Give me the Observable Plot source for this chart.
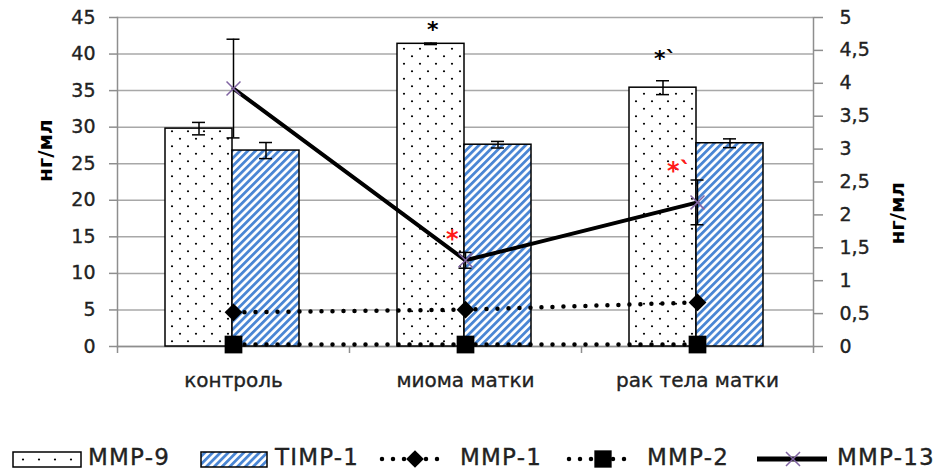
<!DOCTYPE html>
<html><head><meta charset="utf-8">
<script src="https://cdn.jsdelivr.net/npm/d3@7"></script>
<script src="https://cdn.jsdelivr.net/npm/@observablehq/plot@0.6"></script>
<style>
body{margin:0;background:#fff;}
#chart{width:940px;height:469px;overflow:hidden;}
#chart g[aria-label*="tick label"], #chart .legtext{stroke:#222;stroke-width:0.35px;}
</style></head><body><div id="chart"></div>
<script>
// ---- data ----
const categories = ["контроль", "миома матки", "рак тела матки"];
const mmp9 = [29.8, 41.4, 35.4];
const mmp9Err = [0.85, 0.1, 0.95];
const timp1 = [26.8, 27.6, 27.8];
const timp1Err = [1.1, 0.45, 0.6];
const mmp1 = [0.52, 0.56, 0.67];      // right axis units
const mmp2 = [0.03, 0.03, 0.03];      // right axis units
const mmp13 = [3.92, 1.31, 2.19];     // right axis units
const mmp13Err = [0.75, 0.12, 0.34];
const leftTicks = [0, 5, 10, 15, 20, 25, 30, 35, 40, 45];
const rightTicks = [0, 0.5, 1, 1.5, 2, 2.5, 3, 3.5, 4, 4.5, 5];
const axisLabel = "нг/мл";
const seriesNames = ["MMP-9", "TIMP-1", "MMP-1", "MMP-2", "MMP-13"];
// significance marks (left-axis units)
const blackStars = [{cat: "миома матки", label: "*", y: 43.3}, {cat: "рак тела матки", label: "*`", y: 39.3}];
const redStars = [{cat: "миома матки", label: "*", y: 14.6}, {cat: "рак тела матки", label: "*`", y: 24.0}];

// ---- layout ----
const W = 940, H = 430, mL = 117, mR = 127, mT = 17, mB = 84;
const bw = (W - mL - mR) / categories.length;
const ratio = leftTicks[leftTicks.length - 1] / rightTicks[rightTicks.length - 1];
const rows = categories.map((c, i) => ({
  cat: c, mmp9: mmp9[i], mmp9e: mmp9Err[i], timp1: timp1[i], timp1e: timp1Err[i],
  mmp1: mmp1[i] * ratio, mmp2: mmp2[i] * ratio, mmp13: mmp13[i] * ratio, mmp13e: mmp13Err[i] * ratio
}));
const grey = "#8e8e8e";
const txt = "#222";
const purple = "#8064a2";
const fmtR = v => String(+(v / ratio).toFixed(2)).replace(".", ",");

const plot = Plot.plot({
  width: W, height: H, marginLeft: mL, marginRight: mR, marginTop: mT, marginBottom: mB,
  style: {fontFamily: "DejaVu Sans", background: "#fff", overflow: "visible"},
  x: {type: "band", domain: categories, padding: 0},
  y: {domain: [0, 45]},
  marks: [
    Plot.ruleY(leftTicks, {stroke: "#a8a8a8", strokeWidth: 1.5}),
    Plot.frame({anchor: "left", stroke: grey, strokeWidth: 1.5}),
    Plot.frame({anchor: "right", stroke: grey, strokeWidth: 1.5}),
    Plot.frame({anchor: "bottom", stroke: grey, strokeWidth: 1.5}),
    Plot.ruleX(categories, {x: d => d, y1: () => 0, y2: () => 0, insetBottom: -7, dx: -bw / 2, stroke: grey, strokeWidth: 1.5}),
    Plot.ruleX(categories.slice(-1), {x: d => d, y1: () => 0, y2: () => 0, insetBottom: -7, dx: bw / 2, stroke: grey, strokeWidth: 1.5}),
    Plot.axisY(leftTicks, {anchor: "left", tickSize: 8, tickPadding: 14, fontSize: 19, stroke: grey, strokeWidth: 1.5, fill: txt, label: null}),
    Plot.axisY(rightTicks.map(v => v * ratio), {anchor: "right", tickSize: 9, tickPadding: 17, fontSize: 19, stroke: grey, strokeWidth: 1.5, fill: txt, tickFormat: fmtR, label: null}),
    Plot.axisX({anchor: "bottom", tickSize: 0, tickPadding: 26, fontSize: 20, fill: txt, label: null}),
    Plot.text([axisLabel], {text: d => d, frameAnchor: "left", dx: -72, rotate: -90, fontSize: 20, fontWeight: "bold", fill: "#000"}),
    Plot.text([axisLabel], {text: d => d, frameAnchor: "right", dx: 84, rotate: -90, fontSize: 20, fontWeight: "bold", fill: "#000"}),
    // bars
    Plot.barY(rows, {x: "cat", y: "mmp9", fill: "url(#dots)", stroke: "#000", strokeWidth: 1.5, insetLeft: 48, insetRight: 117}),
    Plot.barY(rows, {x: "cat", y: "timp1", fill: "url(#hatch)", stroke: "#000", strokeWidth: 1.5, insetLeft: 115, insetRight: 50}),
    // bar error bars
    Plot.ruleX(rows, {x: "cat", y1: d => d.mmp9 - d.mmp9e, y2: d => d.mmp9 + d.mmp9e, dx: -34.5, stroke: "#000", strokeWidth: 1.5}),
    Plot.tickY(rows, {x: "cat", y: d => d.mmp9 + d.mmp9e, insetLeft: 75, insetRight: 144, stroke: "#000", strokeWidth: 1.5}),
    Plot.tickY(rows, {x: "cat", y: d => d.mmp9 - d.mmp9e, insetLeft: 75, insetRight: 144, stroke: "#000", strokeWidth: 1.5}),
    Plot.ruleX(rows, {x: "cat", y1: d => d.timp1 - d.timp1e, y2: d => d.timp1 + d.timp1e, dx: 32.5, stroke: "#000", strokeWidth: 1.5}),
    Plot.tickY(rows, {x: "cat", y: d => d.timp1 + d.timp1e, insetLeft: 142, insetRight: 77, stroke: "#000", strokeWidth: 1.5}),
    Plot.tickY(rows, {x: "cat", y: d => d.timp1 - d.timp1e, insetLeft: 142, insetRight: 77, stroke: "#000", strokeWidth: 1.5}),
    // dotted lines
    Plot.line(rows, {x: "cat", y: "mmp2", stroke: "#000", strokeWidth: 4.5, strokeDasharray: "0 11", strokeLinecap: "round"}),
    Plot.line(rows, {x: "cat", y: "mmp1", stroke: "#000", strokeWidth: 4.5, strokeDasharray: "0 11", strokeLinecap: "round"}),
    Plot.dot(rows, {x: "cat", y: "mmp2", symbol: "square", r: 10, fill: "#000"}),
    Plot.dot(rows, {x: "cat", y: "mmp1", symbol: "diamond2", r: 8, fill: "#000"}),
    // MMP-13
    Plot.line(rows, {x: "cat", y: "mmp13", stroke: "#000", strokeWidth: 4}),
    Plot.ruleX(rows, {x: "cat", y1: d => d.mmp13 - d.mmp13e, y2: d => d.mmp13 + d.mmp13e, stroke: "#000", strokeWidth: 1.5}),
    Plot.tickY(rows, {x: "cat", y: d => d.mmp13 + d.mmp13e, insetLeft: bw / 2 - 6.5, insetRight: bw / 2 - 6.5, stroke: "#000", strokeWidth: 1.5}),
    Plot.tickY(rows, {x: "cat", y: d => d.mmp13 - d.mmp13e, insetLeft: bw / 2 - 6.5, insetRight: bw / 2 - 6.5, stroke: "#000", strokeWidth: 1.5}),
    Plot.dot(rows, {x: "cat", y: "mmp13", symbol: "times", r: 6.4, stroke: purple, strokeWidth: 1.5}),
    // stars
    Plot.text([blackStars[0]], {x: "cat", y: "y", text: "label", textAnchor: "start", dx: -38.5, fontSize: 22, fontWeight: "bold", fill: "#000"}),
    Plot.text([blackStars[1]], {x: "cat", y: "y", text: "label", textAnchor: "start", dx: -43.5, fontSize: 22, fontWeight: "bold", fill: "#000"}),
    Plot.text([redStars[0]], {x: "cat", y: "y", text: "label", textAnchor: "start", dx: -19.5, fontSize: 24, fontWeight: "bold", fill: "#ff1a1a"}),
    Plot.text([redStars[1]], {x: "cat", y: "y", text: "label", textAnchor: "start", dx: -30.5, fontSize: 24, fontWeight: "bold", fill: "#ff1a1a"})
  ]
});

function addPatterns(svgSel, prefix) {
  const defs = svgSel.insert("defs", ":first-child");
  const p1 = defs.append("pattern").attr("id", prefix + "dots").attr("patternUnits", "userSpaceOnUse")
    .attr("width", 16).attr("height", 15);
  p1.append("rect").attr("width", 16).attr("height", 15).attr("fill", "#fff");
  p1.append("circle").attr("cx", 4).attr("cy", 3.75).attr("r", 1.1).attr("fill", "#000");
  p1.append("circle").attr("cx", 12).attr("cy", 11.25).attr("r", 1.1).attr("fill", "#000");
  const p2 = defs.append("pattern").attr("id", prefix + "hatch").attr("patternUnits", "userSpaceOnUse")
    .attr("width", 5.5).attr("height", 5.5).attr("patternTransform", "rotate(45)");
  p2.append("rect").attr("width", 5.5).attr("height", 5.5).attr("fill", "#fff");
  p2.append("rect").attr("width", 2.8).attr("height", 5.5).attr("fill", "#4a86d4");
}
addPatterns(d3.select(plot), "");
document.getElementById("chart").appendChild(plot);

// ---- legend ----
const lg = d3.select("#chart").append("svg").attr("width", W).attr("height", 469 - H)
  .style("display", "block").style("font-family", "DejaVu Sans");
const ldefs = lg.append("defs");
const lp = ldefs.append("pattern").attr("id", "ldots").attr("patternUnits", "userSpaceOnUse")
  .attr("x", 13).attr("y", 22).attr("width", 16).attr("height", 15);
lp.append("rect").attr("width", 16).attr("height", 15).attr("fill", "#fff");
lp.append("circle").attr("cx", 10).attr("cy", 7.5).attr("r", 1.1).attr("fill", "#000");
addPatterns(lg, "l2");
const ly = 29, base = 35;
lg.append("rect").attr("x", 13).attr("y", 22).attr("width", 68).attr("height", 15)
  .attr("fill", "url(#ldots)").attr("stroke", "#000").attr("stroke-width", 1.5);
lg.append("rect").attr("x", 201).attr("y", 22).attr("width", 66).attr("height", 15)
  .attr("fill", "url(#l2hatch)").attr("stroke", "#000").attr("stroke-width", 1.5);
lg.append("line").attr("x1", 382).attr("x2", 447).attr("y1", ly).attr("y2", ly)
  .attr("stroke", "#000").attr("stroke-width", 4.5).attr("stroke-dasharray", "0 11").attr("stroke-linecap", "round");
lg.append("path").attr("d", d3.symbol(d3.symbolDiamond2, 200)()).attr("transform", `translate(415,${ly})`).attr("fill", "#000");
lg.append("line").attr("x1", 569).attr("x2", 634).attr("y1", ly).attr("y2", ly)
  .attr("stroke", "#000").attr("stroke-width", 4.5).attr("stroke-dasharray", "0 11").attr("stroke-linecap", "round");
lg.append("path").attr("d", d3.symbol(d3.symbolSquare, 300)()).attr("transform", `translate(603,${ly})`).attr("fill", "#000");
lg.append("line").attr("x1", 757).attr("x2", 827).attr("y1", ly).attr("y2", ly)
  .attr("stroke", "#000").attr("stroke-width", 5);
lg.append("path").attr("d", d3.symbol(d3.symbolTimes, 130)()).attr("transform", `translate(793,${ly})`)
  .attr("fill", "none").attr("stroke", purple).attr("stroke-width", 1.5);
const textX = [88, 275, 460, 647, 837];
seriesNames.forEach((s, i) => {
  lg.append("text").attr("class", "legtext").attr("x", textX[i]).attr("y", base).attr("font-size", 23).attr("letter-spacing", 1.2)
    .attr("fill", txt).text(s);
});
</script></body></html>
